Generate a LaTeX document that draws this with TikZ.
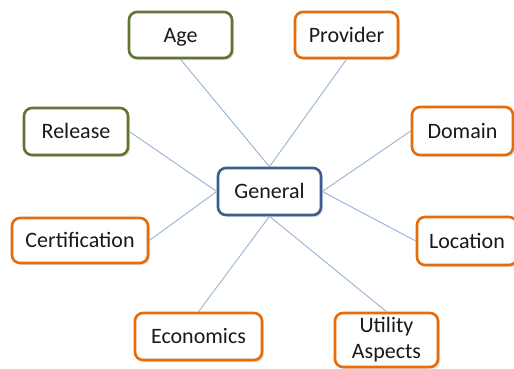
\documentclass[tikz,border=0pt]{standalone}
\usepackage{fontspec}
\setmainfont{Carlito}
\usetikzlibrary{shadows}
\definecolor{olivebd}{HTML}{5F7530}
\definecolor{orangebd}{HTML}{E46C0A}
\definecolor{bluebd}{HTML}{3B5E8C}
\definecolor{linkc}{HTML}{95B3D7}
\tikzset{
  boxbase/.style={draw, line width=2.6pt, rounded corners=8pt, fill=white,
    font=\fontsize{22}{26}\selectfont, inner sep=0pt, align=center,
    text=black!90,
    drop shadow={opacity=0.25, shadow xshift=2pt, shadow yshift=-2pt}},
  box/.style={boxbase, text height=14.2pt, text depth=0pt},
  greenbox/.style={box, draw=olivebd},
  orangebox/.style={box, draw=orangebd},
  bluebox/.style={box, draw=bluebd},
  twolinebox/.style={boxbase, draw=orangebd},
  link/.style={draw=linkc, line width=0.9pt}
}
\begin{document}
\begin{tikzpicture}[x=1pt,y=-1pt]
\useasboundingbox[fill=white] (0,0) rectangle (514,369);
\node[greenbox, minimum width=103pt, minimum height=46pt] (age) at (180.5,35) {Age};
\node[orangebox, minimum width=103pt, minimum height=46pt] (prov) at (346.5,35) {Provider};
\node[greenbox, minimum width=104pt, minimum height=47pt] (rel) at (76,131.5) {Release};
\node[orangebox, minimum width=101pt, minimum height=48pt] (dom) at (462.5,131) {Domain};
\node[bluebox, minimum width=103pt, minimum height=47pt] (gen) at (269.5,191.5) {General};
\node[orangebox, minimum width=136pt, minimum height=45pt] (cert) at (80,240.5) {Certification};
\node[orangebox, minimum width=100pt, minimum height=48pt] (loc) at (467,241) {Location};
\node[orangebox, minimum width=127pt, minimum height=47pt] (eco) at (198.5,336.5) {Economics};
\node[twolinebox, minimum width=103pt, minimum height=54pt] (util) at (386.5,340) {Utility\\Aspects};
\draw[link] (gen.north) -- (age.south);
\draw[link] (gen.north) -- (prov.south);
\draw[link] (gen.west) -- (rel.east);
\draw[link] (gen.west) -- (cert.east);
\draw[link] (gen.east) -- (dom.west);
\draw[link] (gen.east) -- (loc.west);
\draw[link] (gen.south) -- (eco.north);
\draw[link] (gen.south) -- (util.north);
\end{tikzpicture}
\end{document}
